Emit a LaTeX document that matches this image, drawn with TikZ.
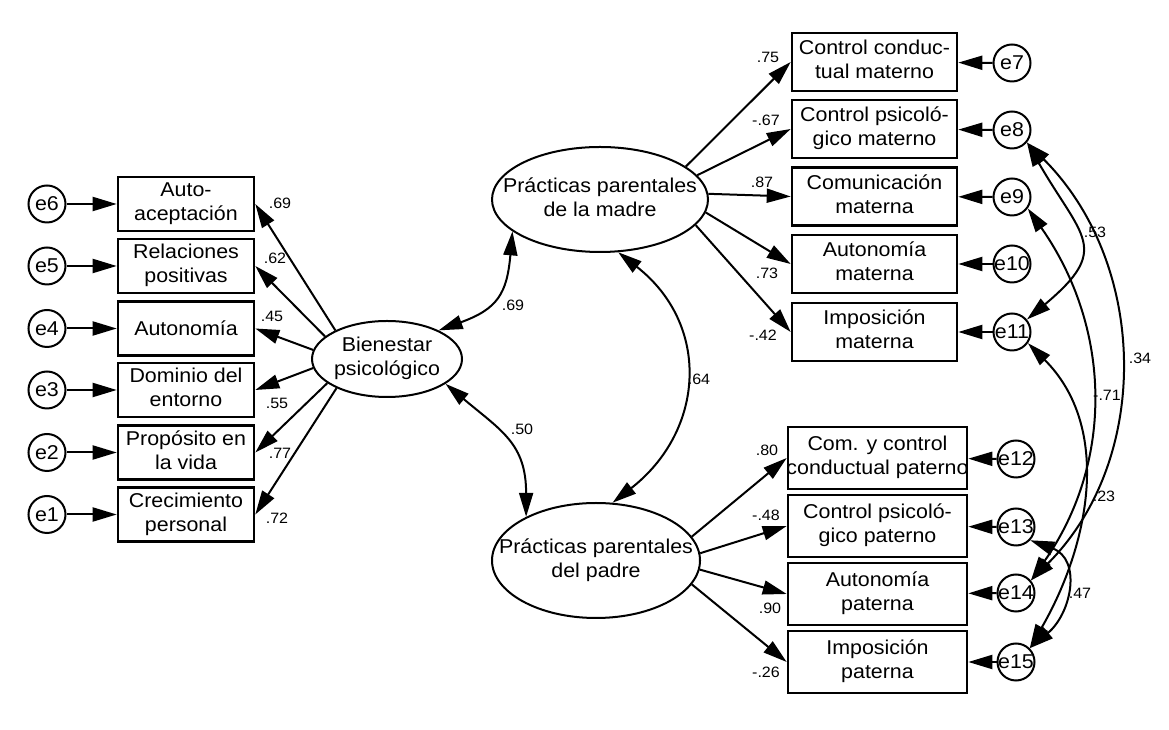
\documentclass[tikz,border=0pt]{standalone}
\usepackage{fontspec}
\setmainfont{Liberation Sans}[FakeStretch=1.07]
\usetikzlibrary{arrows.meta,shapes.geometric}
\newcommand\tl[2]{\makebox[0pt]{\begin{tabular}{@{}c@{}}#1\\#2\end{tabular}}}
\newcommand\ol[1]{\makebox[0pt]{#1}}
\begin{document}
\begin{tikzpicture}[x=1pt,y=1pt,
  every node/.style={font=\fontsize{20}{24}\selectfont},
  lbox/.style={draw, line width=2.6pt, minimum width=136pt, minimum height=54pt, inner sep=0pt},
  tbox/.style={draw, line width=2.6pt, minimum width=165pt, minimum height=58pt, inner sep=0pt},
  bbox/.style={draw, line width=2.6pt, minimum width=179pt, minimum height=62pt, inner sep=0pt},
  err/.style={draw, circle, line width=2pt, minimum size=37pt, inner sep=0pt},
  lat/.style={draw, ellipse, line width=2pt, inner sep=0pt},
  coef/.style={font=\fontsize{15}{18}\selectfont, inner sep=0pt},
  arr/.style={line width=2pt, -{Triangle[length=24pt,width=14pt]}},
  arrr/.style={line width=2pt, {Triangle[length=24pt,width=14pt]}-{Triangle[length=24pt,width=14pt]}}
]
\path[use as bounding box, fill=white] (0,0) rectangle (1169,730);

% left side
\node[err] (e6) at (47,526) {\ol{e6}};
\node[err] (e5) at (47,464) {\ol{e5}};
\node[err] (e4) at (47,401.5) {\ol{e4}};
\node[err] (e3) at (47,340) {\ol{e3}};
\node[err] (e2) at (47,277.5) {\ol{e2}};
\node[err] (e1) at (47,215.5) {\ol{e1}};

\node[lbox] (lb1) at (186,526) {\tl{Auto-}{aceptación}};
\node[lbox] (lb2) at (186,464) {\tl{Relaciones}{positivas}};
\node[lbox] (lb3) at (186,401.5) {\ol{Autonomía}};
\node[lbox] (lb4) at (186,340) {\tl{Dominio del}{entorno}};
\node[lbox] (lb5) at (186,277.5) {\tl{Propósito en}{la vida}};
\node[lbox] (lb6) at (186,215.5) {\tl{Crecimiento}{personal}};

\foreach \i/\b in {6/1,5/2,4/3,3/4,2/5,1/6} \draw[arr] (e\i) -- (lb\b);

% latent variables
\node[lat, minimum width=150pt, minimum height=76pt] (bien) at (387,371) {\tl{Bienestar}{psicológico}};
\node[lat, minimum width=216pt, minimum height=105pt] (madre) at (600,530.5) {\tl{Prácticas parentales}{de la madre}};
\node[lat, minimum width=208pt, minimum height=115pt] (padre) at (596,169.5) {\tl{Prácticas parentales}{del padre}};

\draw[arr] (bien.151.5) -- (lb1.east);
\draw[arr] (bien.160) -- (lb2.east);
\draw[arr] (bien.173) -- (lb3.east);
\draw[arr] (bien.187) -- (lb4.east);
\draw[arr] (bien.202) -- (lb5.east);
\draw[arr] (bien.210) -- (lb6.east);

\node[coef] (c1) at (280,527) {.69};
\node[coef] (c2) at (275,472) {.62};
\node[coef] (c3) at (272,414) {.45};
\node[coef] (c4) at (277,327) {.55};
\node[coef] (c5) at (280,277) {.77};
\node[coef] (c6) at (277,212) {.72};

% mother indicators
\node[tbox] (rb1) at (874.5,668) {\tl{Control conduc-}{tual materno}};
\node[tbox] (rb2) at (874.5,601) {\tl{Control psicoló-}{gico materno}};
\node[tbox] (rb3) at (874.5,533.5) {\tl{Comunicación}{materna}};
\node[tbox] (rb4) at (874.5,466) {\tl{Autonomía}{materna}};
\node[tbox] (rb5) at (874.5,398) {\tl{Imposición}{materna}};

\node[err] (e7) at (1012,667) {\ol{e7}};
\node[err] (e8) at (1012,600) {\ol{e8}};
\node[err] (e9) at (1012,533) {\ol{e9}};
\node[err] (e10) at (1012,466) {\ol{e10}};
\node[err] (e11) at (1012,398) {\ol{e11}};

\foreach \i/\b in {7/1,8/2,9/3,10/4,11/5} \draw[arr] (e\i) -- (rb\b);

\draw[arr] (madre.21) -- (rb1.west);
\draw[arr] (madre.14) -- (rb2.west);
\draw[arr] (madre.3) -- (rb3.west);
\draw[arr] (madre.-7) -- (rb4.west);
\draw[arr] (madre.-15) -- (rb5.west);

\node[coef] (m1) at (768,673) {.75};
\node[coef] (m2) at (766,610) {-.67};
\node[coef] (m3) at (762,548) {.87};
\node[coef] (m4) at (767,457) {.73};
\node[coef] (m5) at (763,395) {-.42};

% father indicators
\node[bbox] (pb1) at (877.5,272) {\tl{Com. y control}{conductual paterno}};
\node[bbox] (pb2) at (877.5,204) {\tl{Control psicoló-}{gico paterno}};
\node[bbox] (pb3) at (877.5,136) {\tl{Autonomía}{paterna}};
\node[bbox] (pb4) at (877.5,68) {\tl{Imposición}{paterna}};

\node[err] (e12) at (1016,271) {\ol{e12}};
\node[err] (e13) at (1016,203) {\ol{e13}};
\node[err] (e14) at (1016,137) {\ol{e14}};
\node[err] (e15) at (1016,68) {\ol{e15}};

\foreach \i/\b in {12/1,13/2,14/3,15/4} \draw[arr] (e\i) -- (pb\b);

\draw[arr] (padre.14.5) -- (pb1.west);
\draw[arr] (padre.4.5) -- (pb2.west);
\draw[arr] (padre.-5.5) -- (pb3.west);
\draw[arr] (padre.-14.5) -- (pb4.west);

\node[coef] (p1) at (767,280) {.80};
\node[coef] (p2) at (766,215) {-.48};
\node[coef] (p3) at (770,122) {.90};
\node[coef] (p4) at (766,58) {-.26};

% latent covariances
\draw[arrr] (bien.29) to[out=20,in=-95,looseness=1.3] (madre.200);
\draw[arrr] (bien.-23) to[out=-40,in=90,looseness=1.2] (padre.148.5);
\draw[arrr] (madre.-71) to[out=-38,in=38,looseness=1.2] (padre.74);
\node[coef] (k1) at (513,425) {.69};
\node[coef] (k2) at (699,351) {.64};
\node[coef] (k3) at (522,301) {.50};

% error covariances
\draw[arrr] (e8.-40) to[out=-60,in=40,looseness=1.6] (e11.40);
\draw[arrr] (e8.-40) to[out=-45,in=45] (e14.40);
\draw[arrr] (e9.-36) to[out=-55,in=55] (e14.40);
\draw[arrr] (e11.-35) to[out=-45,in=60] (e15.45);
\draw[arrr] (e13.-43) to[out=-20,in=40,looseness=1.3] (e15.45);

\node[coef] (r1) at (1095,498) {.53};
\node[coef] (r2) at (1140,372) {.34};
\node[coef] (r3) at (1107,335) {-.71};
\node[coef] (r4) at (1104,234) {.23};
\node[coef] (r5) at (1080,137) {.47};
\end{tikzpicture}
\end{document}
